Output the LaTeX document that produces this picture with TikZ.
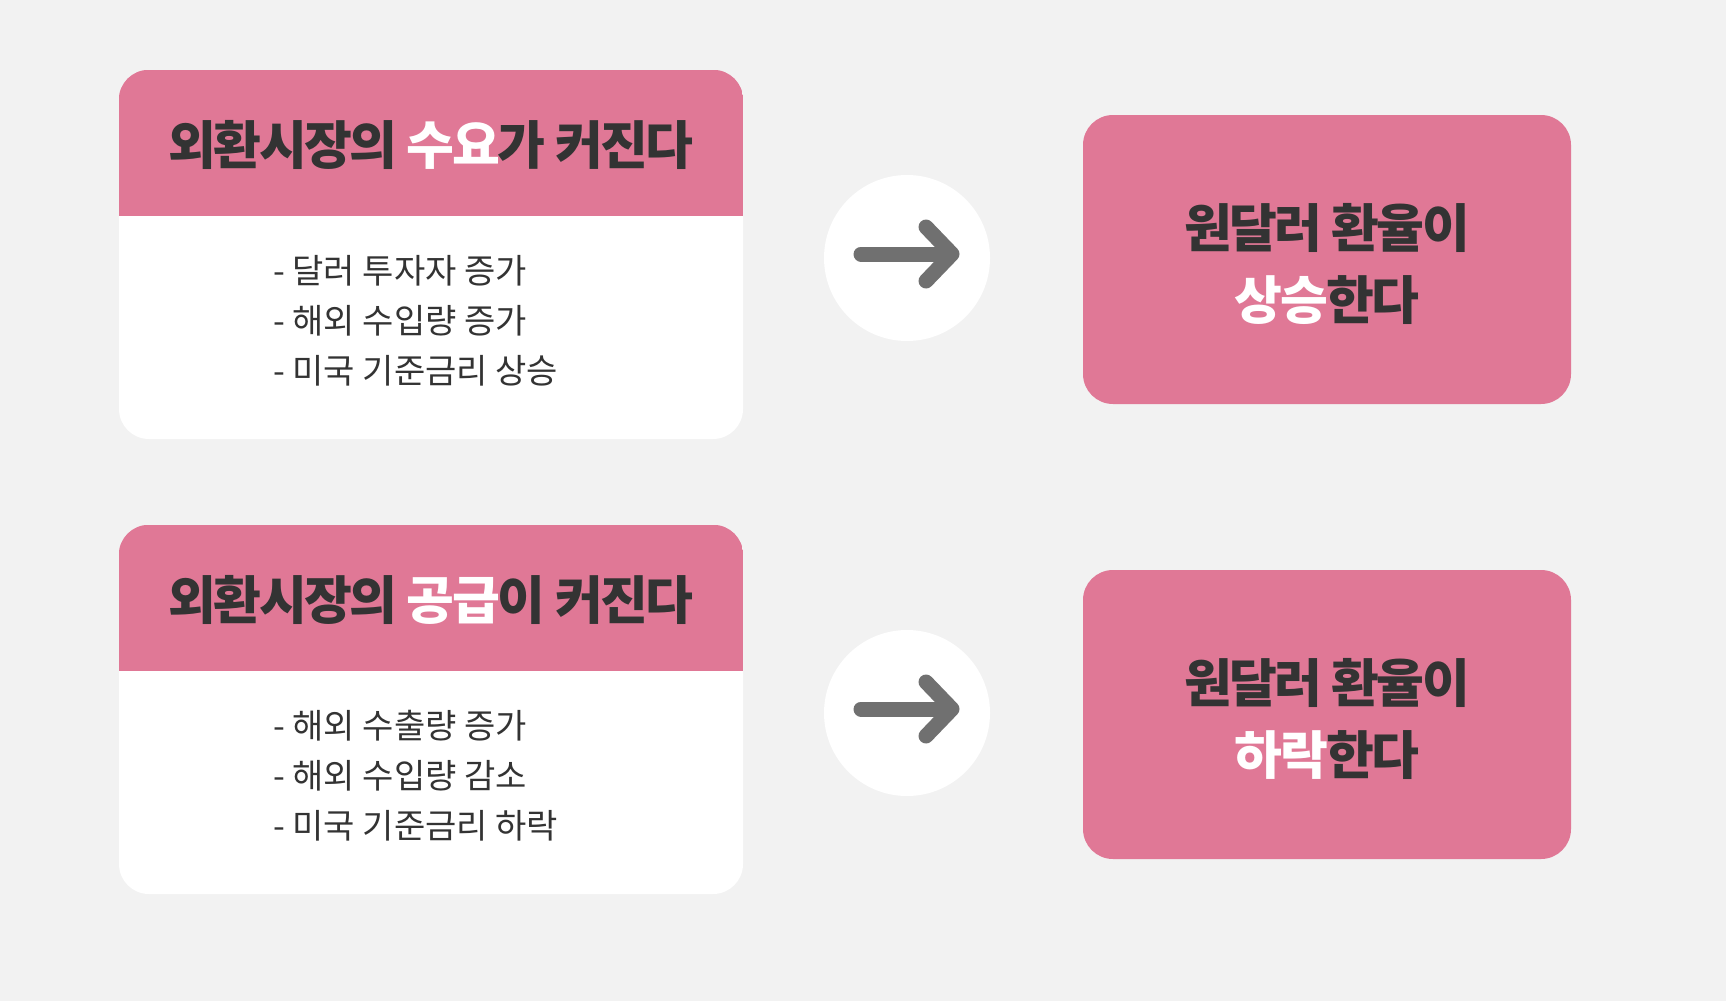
\documentclass[tikz,border=0pt]{standalone}
\usepackage{fontspec}
\setmainfont{Noto Sans CJK KR}
\newfontfamily\ttlfont{Noto Sans CJK KR}[LetterSpace=-5]
\newfontfamily\resfont{Noto Sans CJK KR}[LetterSpace=-5]
\newfontfamily\bodyfont{Noto Sans CJK KR}
\usetikzlibrary{calc}
\definecolor{bgc}{HTML}{F2F2F2}
\definecolor{pinkc}{HTML}{E07896}
\definecolor{darkc}{HTML}{333333}
\definecolor{arrowc}{HTML}{707070}
\tikzset{
  cardbox/.style={rounded corners=30pt, fill=white, inner sep=0pt, minimum width=624pt, minimum height=369pt},
  resbox/.style={rounded corners=30pt, fill=pinkc, inner sep=0pt, minimum width=488pt, minimum height=289pt},
  ring/.style={circle, fill=white, inner sep=0pt, minimum size=166pt},
  ttl/.style={font=\ttlfont\bfseries\fontsize{52}{60}\selectfont, text=darkc, anchor=base, inner sep=0pt},
  rtxt/.style={font=\resfont\bfseries\fontsize{52}{60}\selectfont, text=darkc, anchor=base, inner sep=0pt},
  bodytxt/.style={font=\bodyfont\fontsize{34}{40}\selectfont, text=darkc, anchor=base west, inner sep=0pt},
  bigarrow/.style={draw=arrowc, line width=15pt, line cap=round, line join=round}
}
\begin{document}
\begin{tikzpicture}[x=1pt,y=-1pt]
\fill[bgc] (0,0) rectangle (1726,1001);
\useasboundingbox (0,0) rectangle (1726,1001);

\foreach \dy/\n/\hl/\rest/\la/\lb/\lc/\rh in {0/1/수요/가/달러 투자자 증가/해외 수입량 증가/미국 기준금리 상승/상승,
  455/2/공급/이/해외 수출량 증가/해외 수입량 감소/미국 기준금리 하락/하락}{
  % left card
  \node[cardbox] (c\n) at (431,254.5+\dy) {};
  \begin{scope}
    \clip[rounded corners=30pt] (c\n.north west) rectangle (c\n.south east);
    \fill[pinkc] (c\n.north west) rectangle ($(c\n.north east)+(0,146)$);
  \end{scope}
  \node[ttl] (t\n) at (431,164+\dy) {외환시장의 \textcolor{white}{\hl}\kern-2pt\rest\ 커진다};
  \node[bodytxt] (ba\n) at (273,283+\dy) {- \la};
  \node[bodytxt] (bb\n) at (273,333+\dy) {- \lb};
  \node[bodytxt] (bc\n) at (273,383+\dy) {- \lc};
  % circle with arrow
  \node[ring] (o\n) at (907,258+\dy) {};
  \coordinate (s\n) at ($(o\n)+(-46,-4)$);
  \coordinate (e\n) at ($(o\n)+(44,-4)$);
  \coordinate (h\n) at ($(o\n)+(45,-4)$);
  \coordinate (ua\n) at ($(o\n)+(19,-31)$);
  \coordinate (da\n) at ($(o\n)+(19,23)$);
  \draw[bigarrow] (s\n) -- (e\n);
  \draw[bigarrow] (ua\n) -- (h\n) -- (da\n);
  % result box
  \node[resbox] (r\n) at (1327,259.5+\dy) {};
  \node[rtxt] (ra\n) at (1327,247+\dy) {원달러 환율이};
  \node[rtxt] (rb\n) at (1327,319+\dy) {\textcolor{white}{\rh}\kern-2pt 한다};
}
\end{tikzpicture}
\end{document}
